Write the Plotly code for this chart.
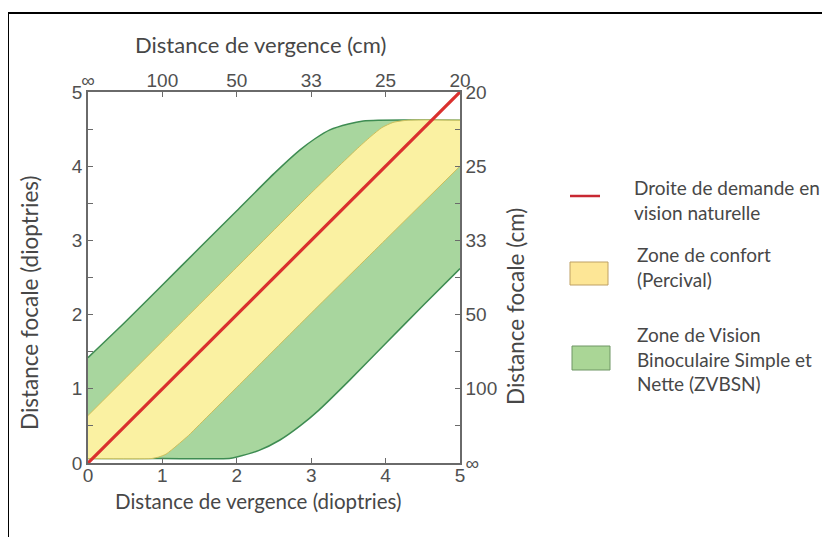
import plotly.graph_objects as go

# ---- data ----
demand_x = [0, 5]
demand_y = [0, 5]

green_upper_x = [0, 0.5, 1, 1.5, 2, 2.5, 2.85, 3.05, 3.25, 3.5, 3.7, 3.9, 5]
green_upper_y = [1.42, 1.9, 2.4, 2.9, 3.4, 3.9, 4.22, 4.37, 4.49, 4.57, 4.61, 4.62, 4.62]

green_lower_x = [0, 1.0, 1.9, 2.0, 2.3, 2.58, 2.85, 3.1, 3.5, 4.0, 4.5, 5]
green_lower_y = [0.06, 0.06, 0.06, 0.08, 0.17, 0.31, 0.5, 0.71, 1.1, 1.61, 2.12, 2.62]

yellow_upper_x = [0, 1, 2, 3, 3.6, 3.8, 3.95, 4.1, 4.3, 5]
yellow_upper_y = [0.64, 1.64, 2.64, 3.64, 4.22, 4.4, 4.52, 4.59, 4.62, 4.62]

yellow_lower_x = [0, 0.85, 0.95, 1.05, 1.2, 1.35, 1.5, 2, 3, 4, 5]
yellow_lower_y = [0.06, 0.06, 0.08, 0.12, 0.24, 0.37, 0.52, 1.02, 2.02, 3.01, 4.0]

diopter_ticks = [0, 1, 2, 3, 4, 5]
diopter_labels = ["0", "1", "2", "3", "4", "5"]
cm_labels_top = ["∞", "100", "50", "33", "25", "20"]
cm_labels_right = ["∞", "100", "50", "33", "25", "20"]

legend_labels = [
    "Droite de demande en<br>vision naturelle",
    "Zone de confort<br>(Percival)",
    "Zone de Vision<br>Binoculaire Simple et<br>Nette (ZVBSN)",
]

# ---- styles / layout (pixel positions in the screenshot) ----
OFF = 8  # page body margin
W, H = 830 - OFF, 537 - OFF
L, R, T, B = 88, 460, 92, 463
GREEN_FILL = "rgb(168,214,158)"
GREEN_LINE = "rgb(62,140,82)"
YELLOW_FILL = "rgb(250,241,162)"
YELLOW_LINE = "rgb(205,190,90)"
RED = "rgb(218,48,46)"
AX = "#6a6a6a"
TXT = "#474747"


def px(x):
    return (x - L) / (R - L)


def py(y):
    return (B - y) / (B - T)


fig = go.Figure()

fig.add_trace(go.Scatter(x=green_lower_x, y=green_lower_y, mode="lines",
                         line=dict(color=GREEN_LINE, width=1.5, shape="spline", smoothing=0.6),
                         showlegend=False, hoverinfo="skip"))
fig.add_trace(go.Scatter(x=green_upper_x, y=green_upper_y, mode="lines", fill="tonexty",
                         fillcolor=GREEN_FILL,
                         line=dict(color=GREEN_LINE, width=1.5, shape="spline", smoothing=0.6),
                         showlegend=False, hoverinfo="skip"))
fig.add_trace(go.Scatter(x=yellow_lower_x, y=yellow_lower_y, mode="lines",
                         line=dict(color=YELLOW_LINE, width=1, shape="spline", smoothing=0.6),
                         showlegend=False, hoverinfo="skip"))
fig.add_trace(go.Scatter(x=yellow_upper_x, y=yellow_upper_y, mode="lines", fill="tonexty",
                         fillcolor=YELLOW_FILL,
                         line=dict(color=YELLOW_LINE, width=1, shape="spline", smoothing=0.6),
                         showlegend=False, hoverinfo="skip"))
fig.add_trace(go.Scatter(x=demand_x, y=demand_y, mode="lines",
                         line=dict(color=RED, width=3.2),
                         showlegend=False, hoverinfo="skip"))
# invisible trace for the secondary axes
fig.add_trace(go.Scatter(x=[0, 5], y=[0, 5], xaxis="x2", yaxis="y2", mode="markers",
                         marker=dict(opacity=0), showlegend=False, hoverinfo="skip"))

tickfont = dict(family="Liberation Sans, Arial, sans-serif", size=19, color="#505050")
common = dict(range=[0, 5], showline=True, linecolor=AX, linewidth=1.5, showgrid=False,
              zeroline=False, ticks="inside", ticklen=5, tickcolor=AX, tickwidth=1.2,
              tickfont=tickfont, fixedrange=True)
minor = dict(dtick=0.5, ticks="inside", ticklen=5, tickcolor=AX, tickwidth=1.2)

fig.update_layout(
    width=W, height=H,
    margin=dict(l=L - OFF, r=W - (R - OFF), t=T - OFF, b=H - (B - OFF)),
    paper_bgcolor="white", plot_bgcolor="white",
    showlegend=False,
    xaxis=dict(**common, tickvals=diopter_ticks, ticktext=diopter_labels, ticklabelstandoff=-6),
    yaxis=dict(**common, tickvals=diopter_ticks, ticktext=diopter_labels, minor=minor),
    xaxis2=dict(**common, overlaying="x", side="top", tickvals=diopter_ticks, ticktext=cm_labels_top,
                ticklabelstandoff=-4),
    yaxis2=dict(**common, overlaying="y", side="right", tickvals=diopter_ticks,
                ticktext=cm_labels_right, minor=minor),
)


def note(text, x, y, size, angle=0, xanchor="center"):
    fig.add_annotation(text=text, x=px(x), y=py(y), xref="paper", yref="paper",
                       xanchor=xanchor, yanchor="middle", align="left", showarrow=False,
                       textangle=angle,
                       font=dict(family="Lato, Open Sans, sans-serif", size=size, color=TXT))


note("Distance de vergence (cm)", 260, 45, 22)
note("Distance de vergence (dioptries)", 258, 501, 20.5)
note("Distance focale (dioptries)", 29, 303, 22.5, angle=-90)
note("Distance focale (cm)", 515, 307, 22.5, angle=-90)

# legend drawn manually
fig.add_shape(type="line", xref="paper", yref="paper", x0=px(570), x1=px(600), y0=py(196), y1=py(196),
              line=dict(color="rgb(200,40,50)", width=2.5))
fig.add_shape(type="rect", xref="paper", yref="paper", x0=px(570), x1=px(608), y0=py(262), y1=py(285),
              fillcolor="rgb(253,230,150)", line=dict(color="rgb(190,160,100)", width=1))
fig.add_shape(type="rect", xref="paper", yref="paper", x0=px(572), x1=px(610), y0=py(346), y1=py(370),
              fillcolor="rgb(170,214,150)", line=dict(color="rgb(110,150,100)", width=1))
note(legend_labels[0], 632, 200, 19, xanchor="left")
note(legend_labels[1], 635, 267, 19, xanchor="left")
note(legend_labels[2], 635, 359, 19, xanchor="left")

# outer frame
fig.add_shape(type="rect", xref="paper", yref="paper", x0=px(8), x1=px(845), y0=py(13), y1=py(560),
              line=dict(color="black", width=2), layer="below")

fig.write_html("out.html")
